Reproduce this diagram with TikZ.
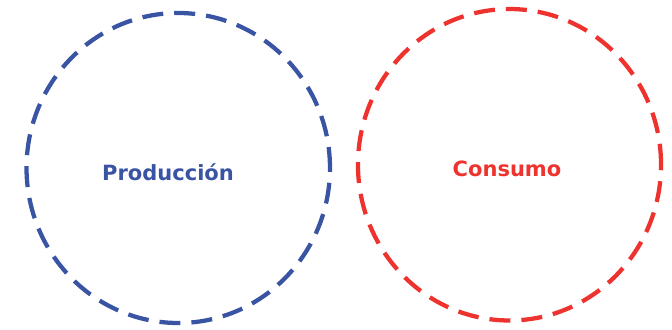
\documentclass[tikz,border=0pt]{standalone}
\usepackage{fontspec}
\setmainfont{DejaVu Sans}
\usetikzlibrary{shapes.geometric}
\definecolor{prodblue}{RGB}{58,84,164}
\definecolor{consred}{RGB}{238,50,46}
\tikzset{
  ring/.style={draw=#1, ellipse, line width=3.2pt, dash pattern=on 15.75pt off 8.25pt, inner sep=0pt},
  label/.style={text=#1, font=\fontsize{15.75}{18}\selectfont\bfseries, anchor=base, inner sep=0pt}
}
\begin{document}
\begin{tikzpicture}[x=0.75pt,y=-0.75pt]
\useasboundingbox (0,0) rectangle (672,329);
\node[ring=prodblue, minimum width=227.6pt, minimum height=232.5pt] (prodring) at (178.25,168) {};
\node[ring=consred, minimum width=227.3pt, minimum height=233.6pt] (consring) at (509.5,164.75) {};
\node[label=prodblue] (prod) at (168,180) {Producción};
\node[label=consred] (cons) at (507,176) {Consumo};
\end{tikzpicture}
\end{document}
